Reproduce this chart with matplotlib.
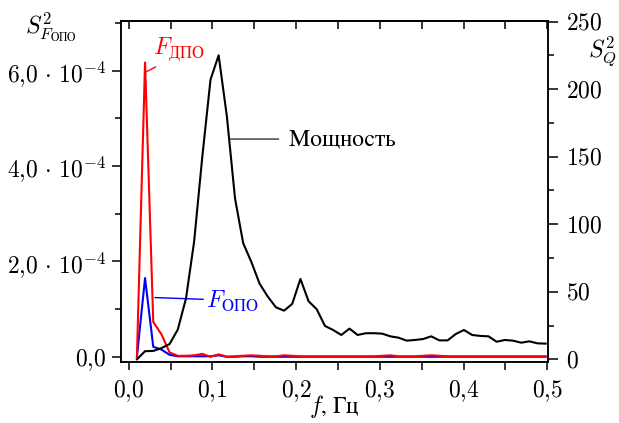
"""
Spectra of F_DPO, F_OPO (left axis) and power (right axis).
"""
import matplotlib
matplotlib.use("Agg")
import matplotlib.pyplot as plt
from matplotlib.ticker import MultipleLocator, FuncFormatter

plt.rcParams['mathtext.fontset'] = 'cm'
plt.rcParams['font.family'] = ['STIXGeneral', 'DejaVu Serif']

# frequency grid, Hz
freq = [0.0098, 0.0195, 0.0293, 0.0391, 0.0488, 0.0586, 0.0684, 0.0781, 0.0879, 0.0977,
        0.1074, 0.1172, 0.1270, 0.1367, 0.1465, 0.1563, 0.1660, 0.1758, 0.1855, 0.1953,
        0.2051, 0.2148, 0.2246, 0.2344, 0.2441, 0.2539, 0.2637, 0.2734, 0.2832, 0.2930,
        0.3027, 0.3125, 0.3223, 0.3320, 0.3418, 0.3516, 0.3613, 0.3711, 0.3809, 0.3906,
        0.4004, 0.4102, 0.4199, 0.4297, 0.4395, 0.4492, 0.4590, 0.4688, 0.4785, 0.4883,
        0.4980]

# F_DPO spectrum, units of 1e-4
f_dpo = [0.0, 6.17, 0.73, 0.47, 0.09, 0.02, 0.02, 0.03, 0.06, 0.0,
         0.05, 0.0, 0.01, 0.02, 0.03, 0.02, 0.01, 0.01, 0.03, 0.02,
         0.01, 0.01, 0.01, 0.01, 0.01, 0.01, 0.01, 0.01, 0.01, 0.01,
         0.02, 0.03, 0.01, 0.01, 0.01, 0.02, 0.03, 0.02, 0.01, 0.01,
         0.01, 0.01, 0.01, 0.01, 0.01, 0.01, 0.01, 0.01, 0.01, 0.01,
         0.01]

# F_OPO spectrum, units of 1e-4
f_opo = [0.0, 1.65, 0.21, 0.15, 0.04, 0.01, 0.01, 0.01, 0.01, 0.01,
         0.03, 0.0, 0.0, 0.01, 0.01, 0.0, 0.0, 0.0, 0.0, 0.0,
         0.0, 0.0, 0.0, 0.0, 0.0, 0.0, 0.0, 0.0, 0.0, 0.0,
         0.0, 0.0, 0.0, 0.0, 0.0, 0.0, 0.0, 0.0, 0.0, 0.0,
         0.0, 0.0, 0.0, 0.0, 0.0, 0.0, 0.0, 0.0, 0.0, 0.0,
         0.0]

# power spectrum S_Q^2
power = [0.0, 6.0, 6.2, 8.3, 11.3, 22.0, 45.0, 87.0, 150.0, 207.0,
         225.0, 180.0, 119.0, 86.0, 72.0, 56.0, 46.5, 38.5, 36.0, 41.0,
         59.5, 43.0, 37.0, 24.7, 21.7, 18.0, 22.7, 18.0, 19.3, 19.3,
         19.0, 17.0, 16.0, 13.8, 14.3, 15.0, 17.0, 14.0, 14.0, 18.7,
         21.7, 18.0, 17.3, 17.0, 13.0, 14.3, 13.8, 12.3, 13.3, 11.8,
         11.6]

FS = 17


def fmt_left(v, pos):
    m = round(v / 1e-4)
    if m == 0:
        return r'$0{,}0$'
    return r'$%d{,}0\,\cdot\,10^{-4}$' % m


def fmt_bottom(v, pos):
    return r'$0{,}%d$' % round(v * 10)


def fmt_right(v, pos):
    return r'$%d$' % round(v)


fig = plt.figure(figsize=(6.19, 4.23), dpi=100)
ax = fig.add_axes([0.1955, 0.1442, 0.6898, 0.8062])
ax2 = ax.twinx()

scale = 1e-4
ax.plot(freq, [v * scale for v in f_opo], color='#0000ff', lw=1.5, zorder=2)
ax.plot(freq, [v * scale for v in f_dpo], color='#ff0000', lw=1.5, zorder=3)
ax2.plot(freq, power, color='black', lw=1.5)

ax.set_xlim(-0.0092, 0.5008)
ax.set_ylim(-0.11e-4, 7.04e-4)
ax2.set_ylim(-2.0, 250.4)

ax.xaxis.set_major_locator(MultipleLocator(0.1))
ax.xaxis.set_minor_locator(MultipleLocator(0.05))
ax.xaxis.set_major_formatter(FuncFormatter(fmt_bottom))
ax.yaxis.set_major_locator(MultipleLocator(2e-4))
ax.yaxis.set_minor_locator(MultipleLocator(1e-4))
ax.yaxis.set_major_formatter(FuncFormatter(fmt_left))
ax2.yaxis.set_major_locator(MultipleLocator(50))
ax2.yaxis.set_minor_locator(MultipleLocator(25))
ax2.yaxis.set_major_formatter(FuncFormatter(fmt_right))

for a in (ax, ax2):
    for s in a.spines.values():
        s.set_linewidth(1.1)
ax.tick_params(axis='both', which='major', direction='out', length=6.5, width=1.1,
               labelsize=FS, pad=4)
ax.tick_params(axis='both', which='minor', direction='out', length=4, width=1.1)
ax.tick_params(axis='x', which='both', length=6, pad=5.5)
ax2.tick_params(axis='y', which='major', direction='out', length=7, width=1.1,
                labelsize=FS, pad=6)
ax2.tick_params(axis='y', which='minor', direction='out', length=4.5, width=1.1)

# top ticks point inward
top = ax.secondary_xaxis('top')
top.xaxis.set_major_locator(MultipleLocator(0.1))
top.xaxis.set_minor_locator(MultipleLocator(0.05))
top.tick_params(axis='x', which='both', direction='in', length=6, width=1.1,
                labeltop=False)
top.spines['top'].set_linewidth(1.1)

# inline labels
ax.annotate(r'$F_{\mathrm{ДПО}}$', xy=(0.0203, 5.97e-4), xytext=(0.0295, 6.43e-4),
            color='#ff0000', fontsize=FS, ha='left', va='center',
            arrowprops=dict(arrowstyle='-', color='#ff0000', lw=1.0,
                            shrinkA=0, shrinkB=0, relpos=(0.15, 0.0)))
ax.annotate(r'$F_{\mathrm{ОПО}}$', xy=(0.0246, 1.245e-4), xytext=(0.0924, 1.15e-4),
            color='#0000ff', fontsize=FS, ha='left', va='center',
            arrowprops=dict(arrowstyle='-', color='#0000ff', lw=1.0,
                            shrinkA=0, shrinkB=4, relpos=(0.0, 0.6)))
ax2.annotate(r'$\mathrm{Мощность}$', xy=(0.1215, 163), xytext=(0.1906, 163),
             color='black', fontsize=FS, ha='left', va='center',
             arrowprops=dict(arrowstyle='-', color='#333333', lw=1.0,
                             shrinkA=5, shrinkB=0, relpos=(0.0, 0.5)))

fig.text(0.082, 0.936, r'$S^2_{F_{\mathrm{ОПО}}}$', fontsize=FS, ha='center', va='center')
fig.text(0.973, 0.877, r'$S^2_Q$', fontsize=FS, ha='center', va='center')
fig.text(0.540, 0.024, r'$f$, $\mathrm{Гц}$', fontsize=FS, ha='center', va='baseline')

fig.savefig('out.png', dpi=100)
